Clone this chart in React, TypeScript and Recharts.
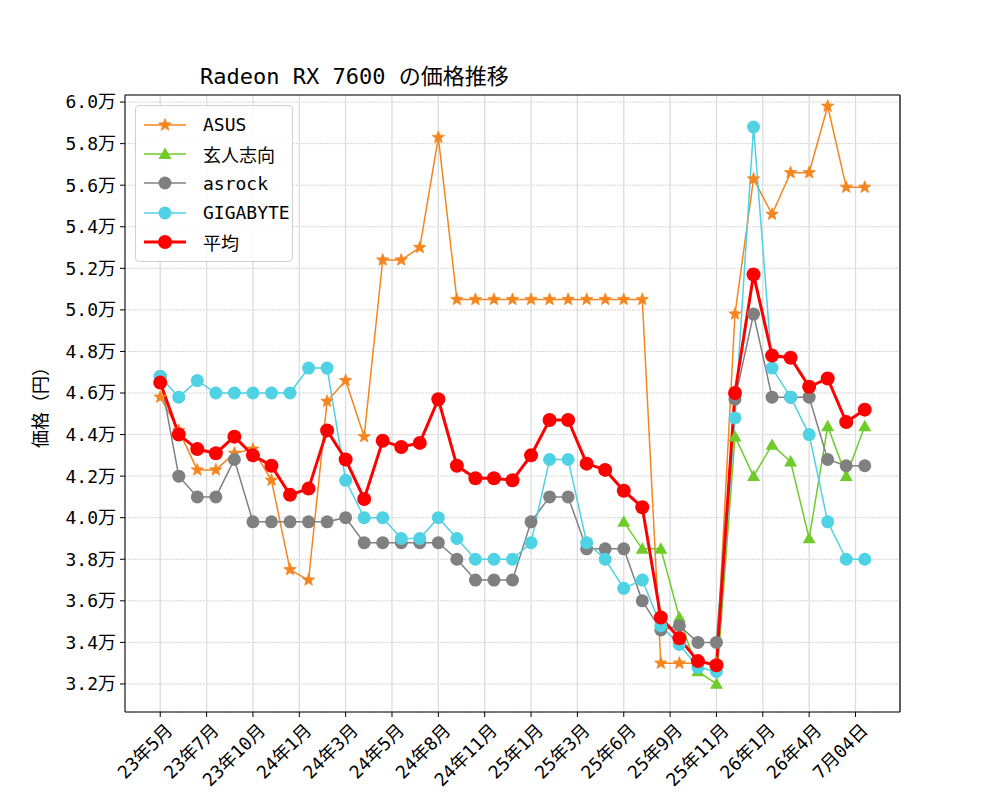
import React from 'react';
import { LineChart, Line, XAxis, YAxis, CartesianGrid, Legend, ReferenceLine } from 'recharts';

const FONT = '"DejaVu Sans Mono", "Noto Sans CJK JP", monospace';

// x positions of the tick labels (point index) and their text
const tickIndex = [0, 2.5, 5, 7.5, 10, 12.5, 15, 17.5, 20, 22.5, 25, 27.5, 30, 32.5, 35, 37.5];
const tickLabels = [
  '23年5月', '23年7月', '23年10月', '24年1月', '24年3月', '24年5月', '24年8月', '24年11月',
  '25年1月', '25年3月', '25年6月', '25年9月', '25年11月', '26年1月', '26年4月', '7月04日',
];
const yTicks = [32000, 34000, 36000, 38000, 40000, 42000, 44000, 46000, 48000, 50000, 52000, 54000, 56000, 58000, 60000];

// prices in yen, one per sample (39 samples)
const asus = [
  45800, 44200, 42300, 42300, 43100, 43300, 41800, 37500, 37000, 45600,
  46600, 43900, 52400, 52400, 53000, 58300, 50500, 50500, 50500, 50500,
  50500, 50500, 50500, 50500, 50500, 50500, 50500, 33000, 33000, 33000,
  33000, 49800, 56300, 54600, 56600, 56600, 59800, 55900, 55900,
];
const kurouto = [
  null, null, null, null, null, null, null, null, null, null,
  null, null, null, null, null, null, null, null, null, null,
  null, null, null, null, null, 39800, 38500, 38500, 35200, 32600,
  32000, 43900, 42000, 43500, 42700, 39000, 44400, 42000, 44400,
];
const asrock = [
  46800, 42000, 41000, 41000, 42800, 39800, 39800, 39800, 39800, 39800,
  40000, 38800, 38800, 38800, 38800, 38800, 38000, 37000, 37000, 37000,
  39800, 41000, 41000, 38500, 38500, 38500, 36000, 34600, 34800, 34000,
  34000, 45700, 49800, 45800, 45800, 45800, 42800, 42500, 42500,
];
const gigabyte = [
  46800, 45800, 46600, 46000, 46000, 46000, 46000, 46000, 47200, 47200,
  41800, 40000, 40000, 39000, 39000, 40000, 39000, 38000, 38000, 38000,
  38800, 42800, 42800, 38800, 38000, 36600, 37000, 34800, 33900, 32800,
  32600, 44800, 58800, 47200, 45800, 44000, 39800, 38000, 38000,
];
const average = [
  46500, 44000, 43300, 43100, 43900, 43000, 42500, 41100, 41400, 44200,
  42800, 40900, 43700, 43400, 43600, 45700, 42500, 41900, 41900, 41800,
  43000, 44700, 44700, 42600, 42300, 41300, 40500, 35200, 34200, 33100,
  32900, 46000, 51700, 47800, 47700, 46300, 46700, 44600, 45200,
];

const X_DOMAIN = [-1.9, 39.9];
const Y_DOMAIN = [30650, 60340];

const data = asus.map((v, i) => ({
  i,
  asus: v,
  kurouto: kurouto[i],
  asrock: asrock[i],
  gigabyte: gigabyte[i],
  avg: average[i],
}));

const starPoints = (cx: number, cy: number, r: number) => {
  const pts: string[] = [];
  for (let k = 0; k < 10; k++) {
    const a = (-90 + k * 36) * Math.PI / 180;
    const rr = k % 2 === 0 ? r : r * 0.42;
    pts.push(`${cx + rr * Math.cos(a)},${cy + rr * Math.sin(a)}`);
  }
  return pts.join(' ');
};

const Marker = ({ kind, cx, cy, color }: any) => {
  if (cx == null || cy == null || isNaN(cy)) return <g />;
  if (kind === 'star') return <polygon points={starPoints(cx, cy, 6.5)} fill={color} stroke={color} strokeWidth={0.8} />;
  if (kind === 'tri') {
    const s = 6.5;
    return <polygon points={`${cx},${cy - s} ${cx - s},${cy + s * 0.75} ${cx + s},${cy + s * 0.75}`} fill={color} />;
  }
  return <circle cx={cx} cy={cy} r={kind === 'big' ? 7 : 6.5} fill={color} />;
};

const series = [
  { key: 'asus', name: 'ASUS', color: '#f5861f', width: 1.5, marker: 'star' },
  { key: 'kurouto', name: '玄人志向', color: '#6fcb2a', width: 1.5, marker: 'tri' },
  { key: 'asrock', name: 'asrock', color: '#808080', width: 1.5, marker: 'circle' },
  { key: 'gigabyte', name: 'GIGABYTE', color: '#4fd2e3', width: 1.5, marker: 'circle' },
  { key: 'avg', name: '平均', color: '#ff0000', width: 3, marker: 'big' },
];

const LegendBox = () => (
  <div style={{
    border: '1px solid #d0d0d0',
    borderRadius: 4,
    background: 'rgba(255,255,255,0.85)',
    padding: '4px 0 5px 7px',
    fontFamily: FONT,
    fontSize: 18,
    boxSizing: 'border-box',
    width: 158,
  }}>
    {series.map(s => (
      <div key={s.key} style={{ display: 'flex', alignItems: 'center', height: 29.3 }}>
        <svg width={44} height={20} style={{ flex: 'none' }}>
          <line x1={1} y1={10} x2={43} y2={10} stroke={s.color} strokeWidth={s.width} />
          <Marker kind={s.marker} cx={22} cy={10} color={s.color} />
        </svg>
        <span style={{ marginLeft: 16, color: '#000', whiteSpace: 'nowrap' }}>{s.name}</span>
      </div>
    ))}
  </div>
);

const XTick = ({ x, y, payload }: any) => {
  const idx = tickIndex.indexOf(payload.value);
  return (
    <g transform={`translate(${x + 5},${y + 4})`}>
      <text x={0} y={0} dy={12} textAnchor="end" transform="rotate(-45)" fontFamily={FONT} fontSize={18} fill="#000">
        {tickLabels[idx]}
      </text>
    </g>
  );
};

const fmtY = (v: number) => `${(v / 10000).toFixed(1)}万`;

const App: React.FC = () => {
  return (
    <div style={{ position: 'absolute', left: 0, top: 0, width: 1000, height: 800, background: '#fff' }}>
      <LineChart
        width={1000}
        height={800}
        data={data}
        margin={{ top: 95, right: 100, left: 45, bottom: 0 }}
      >
        <CartesianGrid vertical={false} stroke="#d4d4d4" strokeDasharray="2 1" />
        <CartesianGrid horizontal={false} stroke="#dcdcdc" strokeWidth={1.3} />
        <XAxis
          dataKey="i"
          type="number"
          domain={X_DOMAIN}
          allowDataOverflow
          ticks={tickIndex}
          interval={0}
          height={88}
          tick={<XTick />}
          tickSize={5}
          axisLine={{ stroke: '#000' }}
          tickLine={{ stroke: '#000' }}
        />
        <YAxis
          type="number"
          domain={Y_DOMAIN}
          allowDataOverflow
          ticks={yTicks}
          interval={0}
          width={80}
          tickFormatter={fmtY}
          tickSize={5}
          tickMargin={4}
          tick={{ fontFamily: FONT, fontSize: 18, fill: '#000' }}
          axisLine={{ stroke: '#000' }}
          tickLine={{ stroke: '#000' }}
        />
        {/* top and right frame of the axes box */}
        <ReferenceLine y={Y_DOMAIN[1]} stroke="#000" strokeWidth={1.2} ifOverflow="visible" />
        <ReferenceLine x={X_DOMAIN[1]} stroke="#000" strokeWidth={1.2} ifOverflow="visible" />
        <Legend
          layout="vertical"
          align="center"
          verticalAlign="middle"
          wrapperStyle={{ left: 135, top: 105, width: 158 }}
          content={<LegendBox />}
        />
        {series.map(s => (
          <Line
            key={s.key}
            type="linear"
            dataKey={s.key}
            name={s.name}
            stroke={s.color}
            strokeWidth={s.width}
            connectNulls={false}
            isAnimationActive={false}
            activeDot={false}
            dot={(p: any) => <Marker key={`${s.key}-${p.index}`} kind={s.marker} cx={p.cx} cy={p.cy} color={s.color} />}
          />
        ))}
      </LineChart>
      <svg width={1000} height={800} style={{ position: 'absolute', left: 0, top: 0, pointerEvents: 'none' }}>
        <text x={200} y={84} fontFamily={FONT} fontSize={22} fill="#000">Radeon RX 7600 の価格推移</text>
        <text
          x={40}
          y={403}
          textAnchor="middle"
          dominantBaseline="central"
          transform="rotate(-90 40 403)"
          fontFamily={FONT}
          fontSize={18}
          fill="#000"
        >
          価格（円）
        </text>
      </svg>
    </div>
  );
};

export default App;
